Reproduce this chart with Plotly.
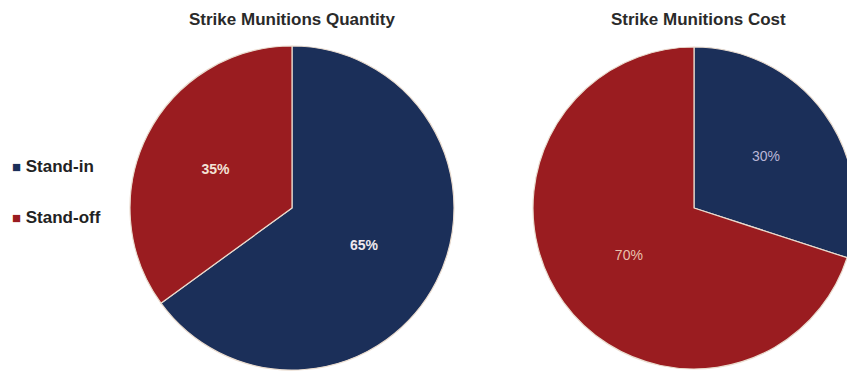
import plotly.graph_objects as go

labels = ["Stand-in", "Stand-off"]
quantity_pct = [65, 35]
cost_pct = [30, 70]
titles = ["Strike Munitions Quantity", "Strike Munitions Cost"]

NAVY = "#1b2f59"
RED = "#9a1c20"
OFF = 8                      # page body margin in the browser
W, H = 855 - OFF, 372 - OFF  # figure fits the window after the body margin
FONT = "Arial, Liberation Sans, sans-serif"


def px_x(x):
    return (x - OFF) / W


def px_y(y):
    return 1 - (y - OFF) / H


fig = go.Figure()

fig.add_trace(go.Pie(
    labels=labels, values=quantity_pct, sort=False, direction="clockwise", rotation=0,
    marker=dict(colors=[NAVY, RED], line=dict(color="#eadccf", width=1.2)),
    texttemplate="<b>%{value}%</b>", textposition="inside",
    insidetextorientation="horizontal",
    textfont=dict(family=FONT, size=14, color=["#eee8ee", "#f3e2d6"]),
    domain=dict(x=[px_x(130), px_x(454)], y=[px_y(370), px_y(46)]),
    showlegend=False, hoverinfo="label+percent",
))

fig.add_trace(go.Pie(
    labels=labels, values=cost_pct, sort=False, direction="clockwise", rotation=0,
    marker=dict(colors=[NAVY, RED], line=dict(color="#eadccf", width=1.2)),
    texttemplate="%{value}%", textposition="inside",
    insidetextorientation="horizontal",
    textfont=dict(family=FONT, size=14, color=["#b9b6d6", "#e9c2ad"]),
    domain=dict(x=[px_x(533), 1.0], y=[px_y(369), px_y(47)]),
    showlegend=False, hoverinfo="label+percent",
))

# legend (coloured square + label), placed at the left like the original
legend_y = [166, 218]
for lab, col, yy in zip(labels, [NAVY, RED], legend_y):
    fig.add_annotation(
        text=f"<span style='font-size:15px;color:{col}'>■</span> {lab}",
        x=px_x(10), y=px_y(yy), xref="paper", yref="paper",
        showarrow=False, xanchor="left", yanchor="middle",
        font=dict(family=FONT, size=17, color="#222222", weight="bold"),
    )

for t, xc in zip(titles, [292, 698]):
    fig.add_annotation(text=t, x=px_x(xc), y=px_y(20), xref="paper", yref="paper",
                       showarrow=False, xanchor="center", yanchor="middle",
                       font=dict(family=FONT, size=17, color="#2a2a2a", weight="bold"))

fig.update_layout(
    width=W, height=H,
    margin=dict(l=0, r=0, t=0, b=0),
    paper_bgcolor="white", plot_bgcolor="white",
    showlegend=False,
)

fig.write_html("out.html")
